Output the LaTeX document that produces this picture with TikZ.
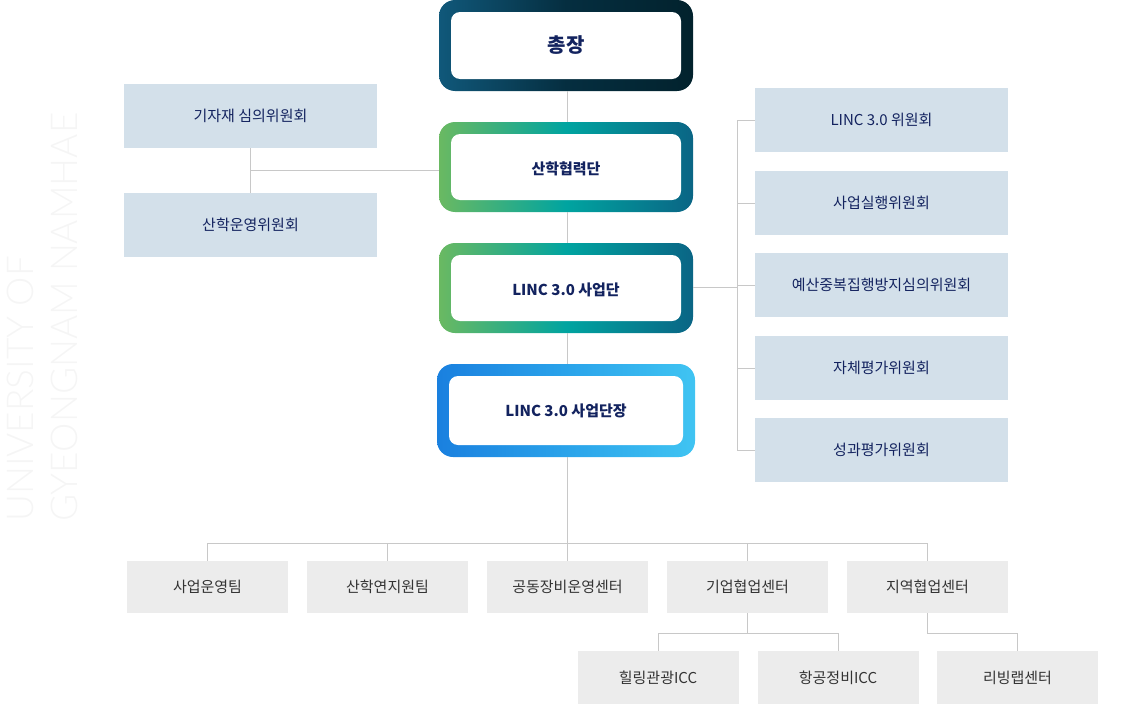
\documentclass[tikz,border=0pt]{standalone}
\usepackage{fontspec}
\setmainfont{Noto Sans CJK KR}
\newfontfamily\wm{Lato Light}
\definecolor{navy}{HTML}{13235F}
\definecolor{ln}{HTML}{C8C8C8}
\definecolor{sb}{HTML}{D3E0EA}
\definecolor{gb}{HTML}{ECECEC}
\definecolor{a1}{HTML}{10587A}\definecolor{a2}{HTML}{052E40}\definecolor{a3}{HTML}{02222D}
\definecolor{g1}{HTML}{6AB962}\definecolor{g2}{HTML}{00A4A0}\definecolor{g3}{HTML}{0A6585}
\definecolor{b1}{HTML}{1A80DF}\definecolor{b2}{HTML}{2AA3EA}\definecolor{b3}{HTML}{40C4F2}
\begin{document}
\begin{tikzpicture}[x=1pt,y=-1pt,
  side/.style={fill=sb,text=navy,font=\fontsize{15}{17}\selectfont},
  bot/.style={fill=gb,text=black!80,font=\fontsize{15}{17}\selectfont},
  conn/.style={draw=ln,line width=0.8pt},
  main/.style={text=navy,font=\bfseries\fontsize{15}{17}\selectfont}]
\useasboundingbox (0,0) rectangle (1130,704);
% watermark
\node[rotate=90,anchor=south west,text=black!4,font=\wm\fontsize{37}{37}\selectfont,inner sep=0] at (34,522) {UNIVERSITY OF};
\node[rotate=90,anchor=south west,text=black!4,font=\wm\fontsize{37}{37}\selectfont,inner sep=0] at (78,522) {GYEONGNAM NAMHAE};
% gradient frames
\newcommand\gbox[7]{%
 \shade[rounded corners=16pt,left color=#5,right color=#7,middle color=#6] (#1,#2) rectangle (#3,#4);
 \fill[white,rounded corners=9pt] (#1+12,#2+12) rectangle (#3-12,#4-12);}
\gbox{439}{0}{693}{91}{a1}{a2}{a3}
\gbox{439}{122}{693}{212}{g1}{g2}{g3}
\gbox{439}{243}{693}{333}{g1}{g2}{g3}
\gbox{437}{364}{695}{457}{b1}{b2}{b3}
\node[main,font=\bfseries\fontsize{20}{22}\selectfont] (ch) at (566,45) {총장};
\node[main] (sh) at (566,169) {산학협력단};
\node[main] (sd) at (566,290) {LINC 3.0 사업단};
\node[main] (sj) at (566,411) {LINC 3.0 사업단장};
\coordinate (chb) at (567,91); \coordinate (sht) at (567,122);
\coordinate (shb) at (567,212); \coordinate (sdt) at (567,243);
\coordinate (sdb) at (567,333); \coordinate (sjt) at (567,364);
\coordinate (sjb) at (567,457);
\draw[conn] (chb)--(sht); \draw[conn] (shb)--(sdt); \draw[conn] (sdb)--(sjt);
% left
\node[side,minimum width=253pt,minimum height=64pt] (l1) at (250.5,116) {기자재 심의위원회};
\node[side,minimum width=253pt,minimum height=64pt] (l2) at (250.5,225) {산학운영위원회};
\coordinate (sl) at (439,170);
\draw[conn] (l1.south)--(l2.north);
\draw[conn] (sl)--(250,170);
% right
\foreach \n/\y/\t in {r1/120/LINC 3.0 위원회,r2/203/사업실행위원회,r3/285/예산중복집행방지심의위원회,r4/368/자체평가위원회,r5/450/성과평가위원회}{
 \node[side,minimum width=253pt,minimum height=64pt] (\n) at (881.5,\y) {\t};
 \draw[conn] (737,\y)--(\n.west);}
\draw[conn] (737,120)--(737,450);
\coordinate (sdr) at (693,287);
\draw[conn] (sdr)--(737,287);
% bottom
\foreach \n/\x/\t in {b1/207.5/사업운영팀,b2/387.5/산학연지원팀,b3/567.5/공동장비운영센터,b4/747.5/기업협업센터,b5/927.5/지역협업센터}{
 \node[bot,minimum width=161pt,minimum height=52pt] (\n) at (\x,587) {\t};
 \draw[conn] (\x,543)--(\n.north);}
\draw[conn] (sjb)--(567,543);
\draw[conn] (207.5,543)--(927.5,543);
\foreach \n/\x/\t in {c1/658/힐링관광ICC,c2/838/항공정비ICC,c3/1017.5/리빙랩센터}{
 \node[bot,minimum width=161pt,minimum height=53pt] (\n) at (\x,677.5) {\t};
 \draw[conn] (\x,633)--(\n.north);}
\draw[conn] (b4.south)--(747.5,633); \draw[conn] (658,633)--(838,633);
\draw[conn] (b5.south)--(927.5,633)--(1017.5,633);
\end{tikzpicture}
\end{document}
